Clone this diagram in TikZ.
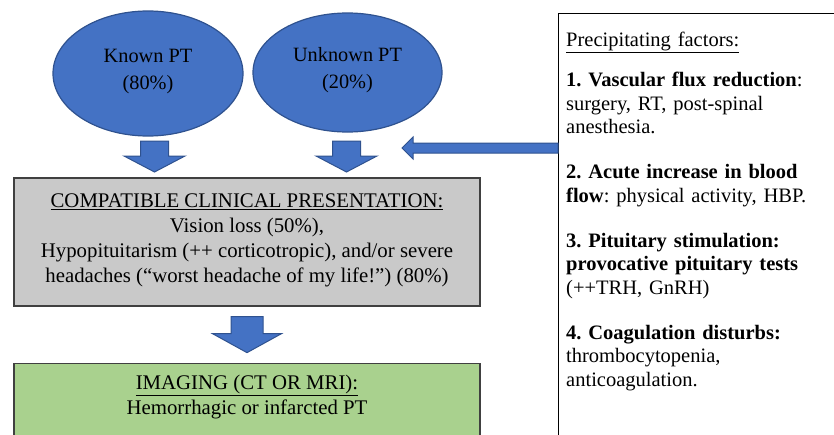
\documentclass[tikz,border=0pt]{standalone}
\usepackage{fontspec}
\setmainfont{Liberation Serif}
\usepackage{xcolor}
\usetikzlibrary{positioning,calc,shapes.geometric}

\definecolor{ptblue}{HTML}{4472C4}
\definecolor{ptborder}{HTML}{2F528F}
\definecolor{clingray}{HTML}{C9C9C9}
\definecolor{imggreen}{HTML}{A9D18E}

\frenchspacing

\begin{document}
\begin{tikzpicture}[
  x=1pt, y=-1pt,
  font=\fontsize{20.8}{25}\selectfont,
  ptell/.style={ellipse, draw=ptborder, fill=ptblue, line width=1.2pt, inner sep=0pt, align=center, font=\fontsize{20.3}{27}\selectfont, text depth=9pt},
  bigarrow/.style={draw=ptborder, fill=ptblue, line width=1pt, line join=miter},
  stepbox/.style={rectangle, draw=black!75, line width=1.3pt, align=center, minimum width=466pt, inner sep=0pt},
  factorbox/.style={rectangle, draw=black, line width=0.9pt, anchor=north west, minimum width=320pt, minimum height=460pt},
  % flèche pleine : demi-tige, demi-tête, longueur, longueur de tête
  pics/blockdown/.style n args={4}{code={
    \draw[bigarrow] (-#1,0) -- (#1,0) -- (#1,#3-#4) -- (#2,#3-#4) -- (0,#3)
      -- (-#2,#3-#4) -- (-#1,#3-#4) -- cycle;}},
  pics/blockleft/.style n args={4}{code={
    \draw[bigarrow] (0,-#1) -- (0,#1) -- (-#3+#4,#1) -- (-#3+#4,#2) -- (-#3,0)
      -- (-#3+#4,-#2) -- (-#3+#4,-#1) -- cycle;}}
]
\clip (0,0) rectangle (834,434);

% Les deux origines du PT
\node[ptell, minimum width=190pt, minimum height=125pt] (known) at (148,73.5) {Known PT\\(80\%)};
\node[ptell, minimum width=189pt, minimum height=119pt] (unknown) at (347.5,72.5) {Unknown PT\\(20\%)};

% Tableau clinique
\node[stepbox, fill=clingray, minimum height=128pt, text depth=8pt] (clin) at (247,242)
  {\underline{COMPATIBLE CLINICAL PRESENTATION:}\\Vision loss (50\%),\\Hypopituitarism (++ corticotropic), and/or severe\\headaches (“worst headache of my life!”) (80\%)};

% Imagerie (coupée en bas)
\node[stepbox, fill=imggreen, anchor=north, minimum height=120pt] (imaging) at (247,363) {};
\node[align=center, inner sep=0pt] (imgtext) at ($(imaging.north)+(0,34)$)
  {\underline{IMAGING (CT OR MRI):}\\Hemorrhagic or infarcted PT};

% Flèches pleines vers le bas
\pic (arrKnown) at (154.5,141) {blockdown={14}{30.5}{31}{16}};
\pic (arrUnknown) at (346.5,141) {blockdown={14}{30.5}{31}{16}};
\pic (arrClin) at ($(clin.south)+(0,10)$) {blockdown={16}{34.5}{36}{19}};

% Facteurs déclenchants
\node[factorbox] (factors) at (558,13) {};
\node[anchor=north west, align=left, text width=265pt, inner sep=0pt,
  font=\fontsize{20.5}{23.5}\selectfont] (factext) at (566,32)
  {\underline{Precipitating factors:}\\[16.5pt]
   \textbf{1. Vascular flux reduction}:\\
   surgery, RT, post-spinal\\
   anesthesia.\\[21.5pt]
   \textbf{2. Acute increase in blood}\\
   \textbf{flow}: physical activity, HBP.\\[21.5pt]
   \textbf{3. Pituitary stimulation:}\\
   \textbf{provocative pituitary tests}\\
   (++TRH, GnRH)\\[21.5pt]
   \textbf{4. Coagulation disturbs:}\\
   thrombocytopenia,\\
   anticoagulation.};

% Flèche horizontale vers le PT inconnu
\pic (arrFactors) at (factors.west |- 0,148) {blockleft={5}{11}{156}{11}};

\end{tikzpicture}
\end{document}
